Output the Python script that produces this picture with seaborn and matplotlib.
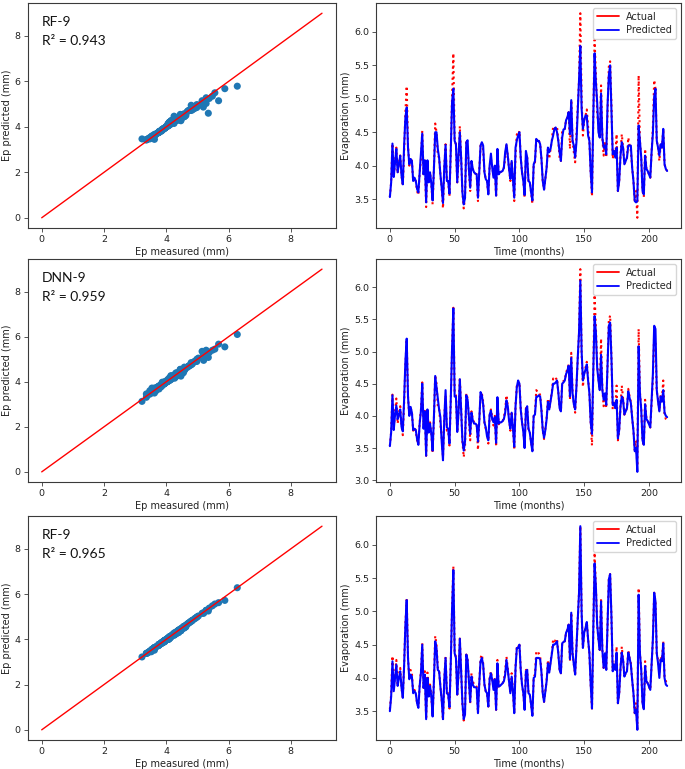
import matplotlib
matplotlib.use("Agg")
import matplotlib.pyplot as plt
from matplotlib.lines import Line2D
import seaborn as sns

# ---------------- data ----------------
months = list(range(215))

actual = [
    3.53, 3.75, 4.33, 3.83, 4.05, 4.27, 3.88, 4.05, 4.15, 3.85,
    3.70, 4.20, 4.80, 5.19, 4.30, 4.00, 4.12, 4.07, 3.77, 3.82,
    3.77, 3.62, 3.56, 3.90, 4.10, 4.52, 3.85, 4.10, 3.38, 4.08,
    3.75, 3.90, 3.73, 3.42, 3.95, 4.63, 4.50, 4.15, 4.12, 3.87,
    3.67, 3.36, 3.97, 4.32, 3.77, 3.77, 3.54, 4.22, 5.03, 5.68,
    4.37, 4.32, 3.75, 4.07, 4.59, 4.12, 3.60, 3.36, 3.52, 4.35,
    4.27, 3.95, 3.62, 4.07, 3.95, 3.90, 3.88, 3.87, 3.47, 3.92,
    4.30, 4.35, 4.22, 3.90, 3.80, 3.77, 3.57, 4.00, 4.10, 3.97,
    3.85, 4.00, 3.52, 4.27, 3.87, 3.90, 3.91, 3.92, 3.97, 4.10,
    4.32, 4.15, 3.95, 3.77, 4.07, 3.80, 3.47, 4.17, 4.47, 4.45,
    4.52, 4.12, 3.90, 3.77, 3.52, 4.12, 4.12, 3.77, 3.75, 3.60,
    3.43, 4.02, 4.05, 4.40, 4.37, 4.37, 4.32, 4.10, 3.77, 3.64,
    3.80, 3.97, 4.27, 4.10, 4.25, 4.37, 4.58, 4.55, 4.57, 4.59,
    4.37, 4.12, 4.07, 4.53, 4.54, 4.55, 4.68, 4.72, 4.80, 4.25,
    4.98, 4.37, 4.20, 4.05, 4.47, 4.90, 5.28, 6.28, 4.98, 4.45,
    4.68, 4.75, 4.84, 4.58, 4.37, 3.90, 3.54, 4.73, 5.88, 5.38,
    4.80, 4.58, 4.42, 5.20, 4.42, 4.15, 4.37, 4.12, 4.83, 5.48,
    5.56, 4.93, 4.10, 4.22, 4.12, 4.47, 3.62, 3.77, 4.15, 4.47,
    4.27, 4.02, 4.07, 4.12, 4.42, 4.30, 4.22, 3.97, 3.77, 3.47,
    3.62, 3.22, 5.35, 4.37, 4.12, 3.62, 3.53, 4.25, 3.95, 3.92,
    3.87, 3.82, 4.20, 4.58, 5.28, 5.15, 4.37, 4.27, 4.07, 4.32,
    4.27, 4.55, 4.02, 3.95, 3.92,
]

pred_rf_a = [
    3.53, 3.75, 4.33, 3.83, 4.05, 4.25, 3.90, 4.03, 4.15, 3.85,
    3.72, 4.30, 4.72, 4.87, 4.27, 4.02, 4.10, 4.07, 3.77, 3.82,
    3.77, 3.65, 3.60, 3.90, 4.20, 4.48, 3.87, 4.08, 3.45, 4.08,
    3.75, 3.90, 3.73, 3.48, 3.95, 4.50, 4.50, 4.25, 4.12, 3.87,
    3.67, 3.44, 3.97, 4.31, 3.77, 3.77, 3.58, 4.22, 4.95, 5.15,
    4.37, 4.32, 3.75, 4.15, 4.50, 4.12, 3.60, 3.42, 3.52, 4.35,
    4.38, 3.95, 3.67, 4.07, 3.95, 3.90, 3.88, 3.87, 3.52, 3.92,
    4.30, 4.35, 4.30, 3.90, 3.80, 3.77, 3.57, 4.00, 4.18, 3.97,
    3.82, 4.00, 3.55, 4.25, 3.87, 3.90, 3.91, 3.92, 3.97, 4.20,
    4.32, 4.15, 3.95, 3.80, 4.07, 3.80, 3.52, 4.27, 4.38, 4.45,
    4.50, 4.12, 3.90, 3.77, 3.56, 4.22, 4.12, 3.77, 3.75, 3.60,
    3.48, 4.02, 4.07, 4.40, 4.37, 4.37, 4.32, 4.10, 3.77, 3.64,
    3.80, 3.97, 4.27, 4.20, 4.25, 4.37, 4.45, 4.55, 4.57, 4.50,
    4.37, 4.20, 4.07, 4.42, 4.54, 4.55, 4.68, 4.72, 4.80, 4.47,
    4.98, 4.37, 4.30, 4.12, 4.35, 4.80, 5.28, 5.79, 4.85, 4.55,
    4.68, 4.75, 4.75, 4.45, 4.37, 3.90, 3.60, 4.73, 5.68, 5.25,
    4.95, 4.50, 4.42, 5.08, 4.42, 4.27, 4.30, 4.17, 4.90, 5.35,
    5.50, 4.85, 4.17, 4.22, 4.12, 4.27, 3.62, 3.77, 4.15, 4.35,
    4.27, 4.02, 4.07, 4.12, 4.30, 4.30, 4.30, 3.97, 3.77, 3.47,
    3.45, 3.47, 4.60, 4.37, 4.12, 3.62, 3.57, 4.15, 3.95, 3.92,
    3.87, 3.82, 4.20, 4.48, 5.03, 5.15, 4.37, 4.27, 4.15, 4.32,
    4.27, 4.55, 4.02, 3.95, 3.92,
]

pred_dnn = [
    3.53, 3.75, 4.32, 3.78, 4.02, 4.16, 3.95, 4.02, 4.10, 3.83,
    3.76, 4.25, 4.85, 5.20, 4.30, 4.00, 4.14, 4.05, 3.78, 3.80,
    3.78, 3.64, 3.55, 3.88, 4.08, 4.50, 3.80, 4.07, 3.38, 4.10,
    3.74, 3.88, 3.72, 3.46, 3.98, 4.62, 4.45, 4.27, 4.10, 3.98,
    3.60, 3.31, 3.95, 4.40, 3.82, 3.80, 3.57, 4.25, 5.05, 5.67,
    4.30, 4.30, 3.75, 4.05, 4.57, 4.10, 3.62, 3.46, 3.60, 4.32,
    4.25, 3.98, 3.72, 4.05, 3.93, 3.88, 3.88, 3.86, 3.60, 3.92,
    4.37, 4.32, 4.18, 3.90, 3.82, 3.68, 3.62, 4.02, 4.08, 3.95,
    3.90, 3.98, 3.58, 4.29, 3.88, 3.90, 3.90, 3.92, 3.95, 4.05,
    4.24, 4.15, 3.92, 3.80, 4.05, 3.82, 3.52, 4.15, 4.45, 4.55,
    4.50, 4.10, 3.90, 3.75, 3.50, 4.10, 4.15, 3.80, 3.74, 3.58,
    3.45, 4.00, 4.02, 4.30, 4.30, 4.32, 4.30, 4.08, 3.78, 3.66,
    3.78, 3.95, 4.22, 4.10, 4.22, 4.35, 4.50, 4.50, 4.52, 4.55,
    4.37, 4.12, 4.07, 4.50, 4.52, 4.55, 4.65, 4.70, 4.78, 4.30,
    4.90, 4.35, 4.18, 4.10, 4.45, 4.90, 5.30, 6.10, 5.00, 4.55,
    4.65, 4.72, 4.80, 4.55, 4.35, 3.90, 3.72, 4.70, 5.55, 5.30,
    4.75, 4.55, 4.40, 4.95, 4.40, 4.25, 4.35, 4.17, 4.80, 5.40,
    5.45, 4.90, 4.17, 4.20, 4.12, 4.25, 3.65, 3.78, 4.15, 4.30,
    4.25, 4.02, 4.07, 4.12, 4.38, 4.28, 4.20, 3.97, 3.77, 3.45,
    3.50, 3.13, 5.08, 4.35, 4.10, 3.62, 3.55, 4.18, 3.95, 3.92,
    3.87, 3.82, 4.22, 4.65, 5.40, 5.35, 4.40, 4.22, 4.07, 4.30,
    4.22, 4.40, 4.05, 4.00, 3.98,
]

pred_rf_b = [
    3.50, 3.72, 4.25, 3.80, 4.00, 4.20, 3.88, 4.00, 4.10, 3.85,
    3.70, 4.18, 4.80, 5.17, 4.30, 3.98, 4.05, 4.02, 3.77, 3.80,
    3.77, 3.62, 3.55, 3.88, 4.08, 4.50, 3.85, 4.05, 3.38, 4.00,
    3.72, 3.88, 3.72, 3.42, 3.95, 4.55, 4.45, 4.12, 4.10, 3.87,
    3.67, 3.38, 3.97, 4.30, 3.77, 3.75, 3.56, 4.22, 5.03, 5.62,
    4.37, 4.30, 3.75, 4.07, 4.59, 4.12, 3.62, 3.38, 3.45, 4.35,
    4.27, 3.95, 3.64, 4.02, 3.90, 3.86, 3.86, 3.85, 3.47, 3.92,
    4.25, 4.30, 4.20, 3.90, 3.80, 3.77, 3.57, 3.98, 4.07, 3.97,
    3.82, 3.98, 3.52, 4.22, 3.87, 3.88, 3.90, 3.92, 3.95, 4.05,
    4.27, 4.12, 3.95, 3.77, 4.02, 3.80, 3.47, 4.15, 4.45, 4.45,
    4.50, 4.12, 3.90, 3.77, 3.52, 4.10, 4.12, 3.77, 3.75, 3.60,
    3.43, 4.00, 4.02, 4.30, 4.30, 4.30, 4.28, 4.08, 3.77, 3.64,
    3.80, 3.95, 4.22, 4.08, 4.22, 4.35, 4.50, 4.50, 4.52, 4.55,
    4.37, 4.12, 4.07, 4.52, 4.54, 4.55, 4.68, 4.72, 4.80, 4.28,
    4.98, 4.37, 4.20, 4.05, 4.47, 4.90, 5.28, 6.28, 4.98, 4.45,
    4.68, 4.75, 4.84, 4.58, 4.37, 3.90, 3.54, 4.73, 5.72, 5.38,
    4.80, 4.58, 4.42, 5.15, 4.42, 4.15, 4.37, 4.12, 4.83, 5.48,
    5.56, 4.93, 4.10, 4.20, 4.12, 4.38, 3.62, 3.77, 4.15, 4.38,
    4.27, 4.02, 4.07, 4.10, 4.38, 4.30, 4.20, 3.97, 3.77, 3.47,
    3.52, 3.22, 5.25, 4.37, 4.12, 3.62, 3.53, 4.18, 3.95, 3.92,
    3.87, 3.82, 4.20, 4.58, 5.28, 5.15, 4.37, 4.22, 4.00, 4.28,
    4.25, 4.52, 4.00, 3.90, 3.88,
]

model_names = ["RF-9", "DNN-9", "RF-9"]
r2_labels = ["R\u00b2 = 0.943", "R\u00b2 = 0.959", "R\u00b2 = 0.965"]
predictions = [pred_rf_a, pred_dnn, pred_rf_b]
line_1to1 = [0, 9]

# ---------------- style ----------------
sns.set_style("ticks")
plt.rcParams["font.family"] = ["DejaVu Sans"]
plt.rcParams["axes.edgecolor"] = "#3a3a3a"
plt.rcParams["axes.linewidth"] = 0.8
plt.rcParams["xtick.color"] = "#3a3a3a"
plt.rcParams["ytick.color"] = "#3a3a3a"
plt.rcParams["xtick.labelcolor"] = "#222222"
plt.rcParams["ytick.labelcolor"] = "#222222"

W, H = 685, 769
fig = plt.figure(figsize=(W / 100, H / 100), dpi=100)
fig.patch.set_facecolor("white")


def add_axes(x0, y0, x1, y1):
    return fig.add_axes([x0 / W, 1 - y1 / H, (x1 - x0) / W, (y1 - y0) / H])


rows = [(3, 228), (259, 482), (516, 740)]
left_x = (27.7, 336)
right_x = (376, 681)

for i, (top, bot) in enumerate(rows):
    pred = predictions[i]

    # ---- scatter panel ----
    ax = add_axes(left_x[0], top, left_x[1], bot)
    sns.scatterplot(x=actual, y=pred, ax=ax, s=26, color="#1f77b4",
                    edgecolor="none", linewidth=0, zorder=2)
    sns.lineplot(x=line_1to1, y=line_1to1, ax=ax, color="red", linewidth=1.0,
                 zorder=3)
    ax.set_xticks([0, 2, 4, 6, 8])
    ax.set_yticks([0, 2, 4, 6, 8])
    ax.set_xlabel("Ep measured (mm)", fontsize=7, labelpad=2, color="#222222")
    ax.set_ylabel("Ep predicted (mm)", fontsize=7, labelpad=2, color="#222222")
    ax.tick_params(labelsize=6.8, length=3, width=0.6, pad=2)
    ax.text(0.046, 0.915, model_names[i], transform=ax.transAxes,
            fontsize=10, family=["Lato", "DejaVu Sans"], va="center",
            ha="left", color="#111111")
    ax.text(0.046, 0.83, r2_labels[i], transform=ax.transAxes,
            fontsize=10, family=["Lato", "DejaVu Sans"], va="center",
            ha="left", color="#111111")

    # ---- time series panel ----
    ax2 = add_axes(right_x[0], top, right_x[1], bot)
    sns.lineplot(x=months, y=actual, ax=ax2, color="red", linestyle=":",
                 linewidth=1.5, zorder=2)
    sns.lineplot(x=months, y=pred, ax=ax2, color="blue", linewidth=1.5,
                 zorder=3)
    ax2.set_xticks([0, 50, 100, 150, 200])
    ax2.yaxis.set_major_locator(matplotlib.ticker.MultipleLocator(0.5))
    ax2.yaxis.set_major_formatter(matplotlib.ticker.FormatStrFormatter("%.1f"))
    ax2.set_xlabel("Time (months)", fontsize=7, labelpad=2, color="#222222")
    ax2.set_ylabel("Evaporation (mm)", fontsize=7, labelpad=2, color="#222222")
    ax2.tick_params(labelsize=6.8, length=3, width=0.6, pad=2)
    handles = [Line2D([0], [0], color="red", lw=1.3),
               Line2D([0], [0], color="blue", lw=1.3)]
    ax2.legend(handles, ["Actual", "Predicted"], loc="upper right",
               fontsize=7, handlelength=2.2, borderpad=0.4,
               labelspacing=0.35, framealpha=0.8, edgecolor="#cccccc",
               fancybox=True)

fig.savefig("out.png", dpi=100, facecolor="white")
